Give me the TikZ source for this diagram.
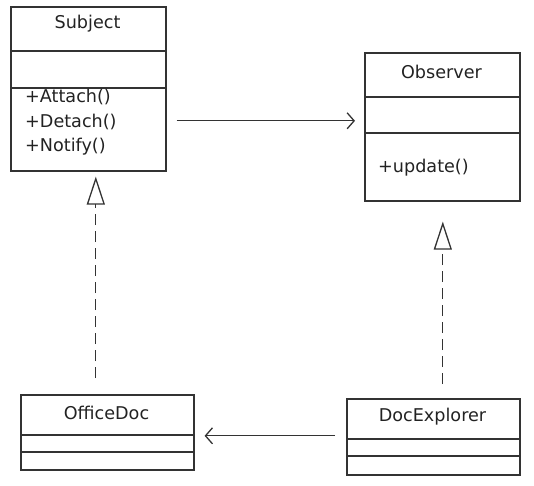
\documentclass[tikz,border=0pt]{standalone}
\usepackage{fontspec}
\setmainfont{DejaVu Sans}
\usetikzlibrary{arrows.meta}
\definecolor{ink}{HTML}{333333}
\definecolor{txt}{HTML}{222222}
\tikzset{
  cls/.style={draw=ink, line width=1.6pt, inner sep=0pt, anchor=north west},
  sep/.style={draw=ink, line width=1.5pt},
  lbl/.style={text=txt, font=\fontsize{17.6}{20}\selectfont, inner sep=0pt},
  assoc/.style={draw=ink, line width=1.3pt, -{Straight Barb[length=7pt,width=16pt,line width=1.3pt]}},
  realize/.style={draw=ink, line width=1.1pt, dash pattern=on 11pt off 6pt, -{Triangle[open,length=28pt,width=18pt,line width=1.3pt,fill=white]}}
}
\begin{document}
\begin{tikzpicture}[x=1pt,y=-1pt]
\useasboundingbox (0,0) rectangle (534,485);
% Subject
\node[cls, minimum width=155pt, minimum height=164pt] (subject) at (10,6) {};
\draw[sep] (10,51) -- (165,51);
\draw[sep] (10,88) -- (165,88);
\node[lbl] (subjectT) at (87.5,24) {Subject};
\node[lbl, anchor=west] (m1) at (25,97) {+Attach()};
\node[lbl, anchor=west] (m2) at (25,122) {+Detach()};
\node[lbl, anchor=west] (m3) at (25,147) {+Notify()};
% Observer
\node[cls, minimum width=155pt, minimum height=148pt] (observer) at (364,52) {};
\draw[sep] (364,97) -- (519,97);
\draw[sep] (364,133) -- (519,133);
\node[lbl] (observerT) at (441.5,72) {Observer};
\node[lbl, anchor=west] (m4) at (378,168) {+update()};
% OfficeDoc
\node[cls, minimum width=173pt, minimum height=75pt] (officedoc) at (20,394) {};
\draw[sep] (20,435) -- (193,435);
\draw[sep] (20,452) -- (193,452);
\node[lbl] (officedocT) at (106.5,413) {OfficeDoc};
% DocExplorer
\node[cls, minimum width=173pt, minimum height=76pt] (docexplorer) at (346,398) {};
\draw[sep] (346,439) -- (519,439);
\draw[sep] (346,456) -- (519,456);
\node[lbl] (docexplorerT) at (432.5,417) {DocExplorer};
% connectors
\draw[assoc, shorten <=10pt, shorten >=9pt] ([yshift=-32pt]subject.east) -- ([yshift=6pt]observer.west);
\draw[assoc, shorten <=11pt, shorten >=10pt] ([yshift=1pt]docexplorer.west) -- ([yshift=-3.5pt]officedoc.east);
\draw[realize, shorten <=16pt, shorten >=5pt] ([xshift=-11.5pt]officedoc.north) -- ([xshift=7.5pt]subject.south);
\draw[realize, shorten <=14pt, shorten >=20pt] ([xshift=9.5pt]docexplorer.north) -- ([xshift=0.5pt]observer.south);
\end{tikzpicture}
\end{document}
